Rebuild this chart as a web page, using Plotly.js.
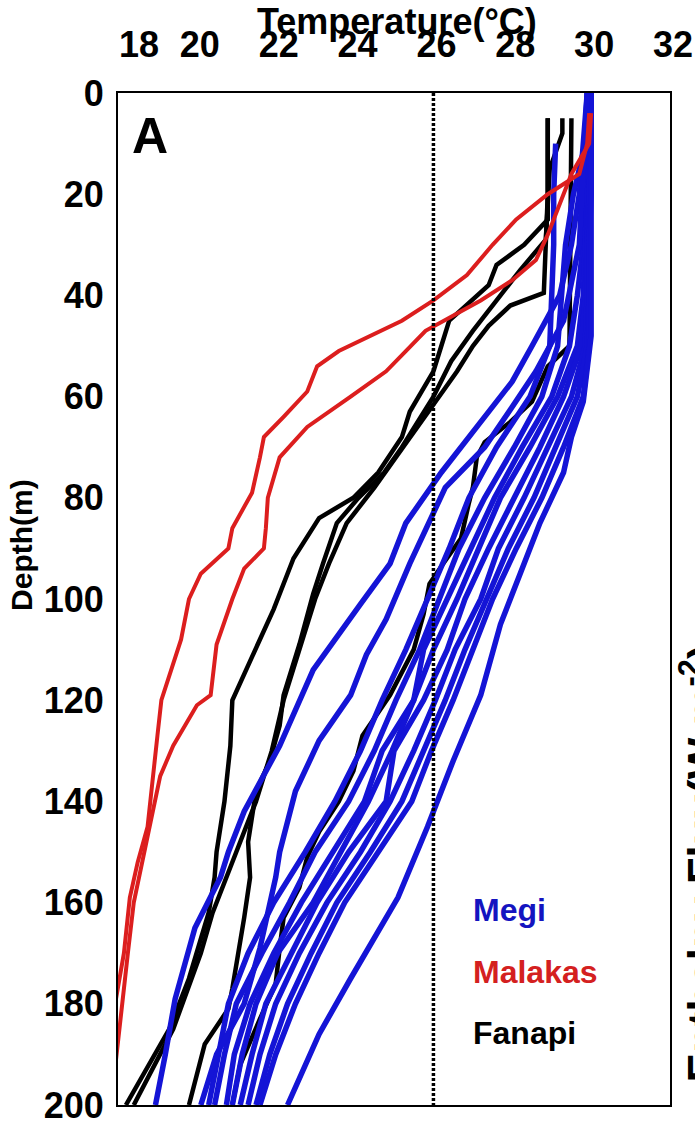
<!DOCTYPE html>
<html>
<head>
<meta charset="utf-8">
<script src="https://cdn.plot.ly/plotly-3.0.1.min.js"></script>
<style>html,body{margin:0;padding:0;background:#fff;}#chart{width:695px;height:1124px;}</style>
</head>
<body>
<div id="chart"></div>
<script>
// ---------------- data ----------------
const xTickVals = [18, 20, 22, 24, 26, 28, 30, 32];
const xTickText = ["\u200318", "20", "22", "24", "26", "28", "30", "32"];
const yTickVals = [0, 20, 40, 60, 80, 100, 120, 140, 160, 180, 200];
const threshold26 = 26;
const legendNames = ["Megi", "Malakas", "Fanapi"];
const xTitle = "Temperature(°C)";
const yTitle = "Depth(m)";
const panelLabel = "A";
const sideLabel = "Enthalpy Flux(W m<sup>-2</sup>)";

// Megi (blue) — warm bunch on a shared depth grid
const megiGridDepth = [0,10,20,30,40,50,60,70,80,90,100,110,120,130,140,150,160,170,180,190,200];
const megiW2 = [29.9,29.85,29.55,29.35,29.25,29.15,28.75,28.05,27.3,26.65,26.15,25.65,25.05,24.5,23.85,23.0,22.35,21.65,21.0,20.7,20.45];
const megiW3 = [29.95,29.9,29.85,29.8,29.65,29.45,29.0,28.25,27.55,26.95,26.35,25.75,25.5,24.7,24.25,23.45,22.65,21.95,21.35,20.95,20.75];
const megiW4 = [29.95,29.95,29.9,29.85,29.8,29.65,29.15,28.45,27.7,27.15,26.6,26.0,25.5,24.95,24.35,23.65,22.95,22.05,21.5,21.15,20.9];
const megiW5 = [29.95,29.95,29.9,29.9,29.85,29.75,29.3,28.7,28.05,27.4,26.8,26.35,25.75,25.0,24.8,23.85,23.05,22.4,21.75,21.4,21.1];
const megiW6 = [30.0,29.95,29.95,29.9,29.9,29.85,29.5,28.9,28.3,27.65,27.2,26.55,26.05,25.5,24.9,24.15,23.3,22.6,22.0,21.6,21.3];
const megiW7 = [30.0,30.0,29.95,29.95,29.95,29.9,29.65,29.1,28.55,27.9,27.35,26.8,26.3,25.75,25.2,24.4,23.55,22.9,22.3,21.85,21.5];
const megiW8 = [30.0,30.0,30.0,29.95,29.95,29.95,29.8,29.3,28.75,28.1,27.5,27.0,26.5,25.95,25.45,24.6,23.75,23.1,22.5,22.0,21.6];
// Megi — individual profiles
const megiW1Depth = [10,20,30,40,50,60,70,80,90,100,110,120,130,140,150,160,170,180,190,200];
const megiW1Temp  = [29.1,29.05,29.05,29.0,28.95,28.45,27.6,26.9,26.4,25.85,25.3,24.7,24.15,23.5,22.75,21.95,21.3,20.8,20.55,20.3];
const megiRDepth = [0,48,61,68,75,85,95,105,119,132,145,159,175,186,200];
const megiRTemp  = [30.0,30.0,29.8,29.5,29.3,28.7,28.2,27.7,27.2,26.5,25.85,25.1,23.9,23.1,22.3];
const megiC1Depth = [0,20,30,40,50,57,65,75,85,93,101,114,129,142,150,155,165,179,190,200];
const megiC1Temp  = [29.9,29.7,29.5,29.2,28.5,28.0,27.2,26.2,25.3,24.9,24.15,22.95,22.1,21.2,20.8,20.6,19.95,19.45,19.2,18.95];
const megiC2Depth = [0,30,45,55,62,70,78,93,104,111,119,128,138,150,155,169,180,190,200];
const megiC2Temp  = [29.9,29.7,29.3,28.6,28.0,27.3,26.3,25.4,24.8,24.3,23.9,23.1,22.5,22.1,22.0,21.6,21.2,20.5,20.1];

// Malakas (red)
const malakas1Depth = [4,10,16,20,25,30,36,41,45,51,54,59,64,68,72,79,86,90,95,100,108,120,127,135,145,152,159,170,179];
const malakas1Temp  = [29.95,29.9,29.7,28.9,28.1,27.5,26.85,26.0,25.2,23.6,23.05,22.8,22.2,21.7,21.6,21.4,20.9,20.8,20.1,19.8,19.6,19.1,19.0,18.9,18.75,18.5,18.3,18.15,17.95];
const malakas2Depth = [4,10,16,22,28,33,37,41,44,47,51,55,60,66,72,80,86,90,94,100,109,119,121,129,135,145,152,160,170,180,191];
const malakas2Temp  = [30.0,29.95,29.5,29.2,28.9,28.6,28.0,27.2,26.5,25.8,25.3,24.8,23.9,22.8,22.1,21.8,21.75,21.7,21.2,20.9,20.5,20.35,20.0,19.4,19.07,18.8,18.6,18.4,18.25,18.1,17.95];

// Fanapi (black)
const fanapiADepth = [5,16,25,30,34,38,45,50,55,63,68,75,80,84,92,102,115,120,129,140,150,155,162,175,185,200];
const fanapiATemp  = [28.9,28.9,28.9,28.3,27.6,27.4,26.4,26.2,26.0,25.4,25.2,24.6,23.97,23.1,22.45,21.95,21.2,20.9,20.85,20.7,20.5,20.45,20.3,19.8,19.3,18.2];
const fanapiBDepth = [5,8,15,29,35,41,47,53,60,70,75,80,85,93,99,109,119,125,132,138,148,155,163,177,181,188,200];
const fanapiBTemp  = [29.27,29.27,28.95,28.85,28.2,27.6,27.0,26.45,26.0,25.2,24.75,24.1,23.55,23.2,22.95,22.6,22.2,22.1,21.85,21.5,21.3,21.35,21.2,20.9,20.8,20.2,19.8];
const fanapiCDepth = [5,20,39.5,42,46,50,55,60,66,72,78,85,93,100,110,120,130,140,150,155,162,170,185,200];
const fanapiCTemp  = [28.9,28.9,28.8,27.95,27.4,27.0,26.6,26.15,25.6,25.05,24.5,23.8,23.35,23.0,22.6,22.2,21.9,21.5,21.0,20.75,20.4,20.1,19.4,18.4];
const fanapiWDepth = [5,50,54,61,65,69,72,78,81,88,93,97,103,110,119,127,134,140,146,151,157,163,169,176,183,192,200];
const fanapiWTemp  = [29.5,29.45,28.9,28.5,27.95,27.3,27.1,27.0,26.9,26.7,26.25,25.9,25.75,25.5,24.9,24.2,23.97,23.6,23.1,22.8,22.6,22.2,22.1,22.0,21.6,21.1,20.9];

// ---------------- styling ----------------
const BLUE = "#1414d6", RED = "#dc1e1e", BLACK = "#000000";
const FONT = "Liberation Sans, Arial, Helvetica, sans-serif";

function prof(x, y, color, width) {
  return {x: x, y: y, type: "scatter", mode: "lines", hoverinfo: "skip", showlegend: false,
          line: {color: color, width: width, shape: "linear"}};
}

const traces = [];
traces.push(prof(fanapiATemp, fanapiADepth, BLACK, 4.5));
traces.push(prof(fanapiBTemp, fanapiBDepth, BLACK, 4.5));
traces.push(prof(fanapiCTemp, fanapiCDepth, BLACK, 4.5));
traces.push(prof(fanapiWTemp, fanapiWDepth, BLACK, 4.5));
[megiW2, megiW3, megiW4, megiW5, megiW6, megiW7, megiW8].forEach(t => traces.push(prof(t, megiGridDepth, BLUE, 5.5)));
traces.push(prof(megiW1Temp, megiW1Depth, BLUE, 5.5));
traces.push(prof(megiRTemp, megiRDepth, BLUE, 5.5));
traces.push(prof(megiC1Temp, megiC1Depth, BLUE, 5.5));
traces.push(prof(megiC2Temp, megiC2Depth, BLUE, 5.5));
traces.push(prof(malakas1Temp, malakas1Depth, RED, 4));
traces.push(prof(malakas2Temp, malakas2Depth, RED, 4));
traces.push({x: [threshold26, threshold26], y: [yTickVals[0], yTickVals[yTickVals.length-1]], type: "scatter", mode: "lines",
             hoverinfo: "skip", showlegend: false, line: {color: BLACK, width: 3.5, dash: "3px,2px"}});

const layout = {
  width: 695, height: 1124,
  margin: {l: 118, r: 25, t: 93, b: 19, pad: 0},
  paper_bgcolor: "#fff", plot_bgcolor: "#fff",
  showlegend: false,
  font: {family: FONT, color: BLACK},
  xaxis: {
    side: "top", range: [18, 32], tickvals: xTickVals, ticktext: xTickText,
    ticks: "", ticklabelstandoff: 20, ticklabelshift: 3, ticklabeloverflow: "allow",
    showgrid: false, zeroline: false,
    showline: true, mirror: true, linecolor: BLACK, linewidth: 2,
    tickfont: {family: FONT, size: 36, color: BLACK, weight: "bold"}
  },
  yaxis: {
    range: [200, 0], tickvals: yTickVals, ticktext: yTickVals.map(String),
    ticks: "", ticklabelstandoff: 5, ticklabeloverflow: "allow",
    showgrid: false, zeroline: false,
    showline: true, mirror: true, linecolor: BLACK, linewidth: 2,
    tickfont: {family: FONT, size: 36, color: BLACK, weight: "bold"}
  },
  annotations: [
    {text: xTitle, xref: "paper", yref: "paper", x: 0.505, y: 1.0705, showarrow: false,
     xanchor: "center", yanchor: "middle",
     font: {family: FONT, size: 36, color: BLACK, weight: "bold"}},
    {text: yTitle, xref: "paper", yref: "paper", x: -0.174, y: 0.5534, textangle: -90, showarrow: false,
     xanchor: "center", yanchor: "middle",
     font: {family: FONT, size: 30, color: BLACK, weight: "bold"}},
    {text: panelLabel, xref: "x", yref: "y", x: 18.8, y: 8.5, showarrow: false, xanchor: "center", yanchor: "middle",
     font: {family: FONT, size: 50, color: BLACK, weight: "bold"}},
    {text: legendNames[0], xref: "x", yref: "y", x: 26.95, y: 161.5, showarrow: false, xanchor: "left", yanchor: "middle",
     font: {family: FONT, size: 32, color: "#1414c0", weight: "bold"}},
    {text: legendNames[1], xref: "x", yref: "y", x: 26.95, y: 173.7, showarrow: false, xanchor: "left", yanchor: "middle",
     font: {family: FONT, size: 32, color: "#d42020", weight: "bold"}},
    {text: legendNames[2], xref: "x", yref: "y", x: 26.95, y: 185.7, showarrow: false, xanchor: "left", yanchor: "middle",
     font: {family: FONT, size: 32, color: BLACK, weight: "bold"}},
    {text: sideLabel, xref: "paper", yref: "paper", x: 1.053, y: 0.239, textangle: -90,
     showarrow: false, xanchor: "center", yanchor: "middle",
     font: {family: FONT, size: 44, color: BLACK, weight: "bold"}}
  ]
};

Plotly.newPlot("chart", traces, layout, {staticPlot: true, displayModeBar: false});
</script>
</body>
</html>
